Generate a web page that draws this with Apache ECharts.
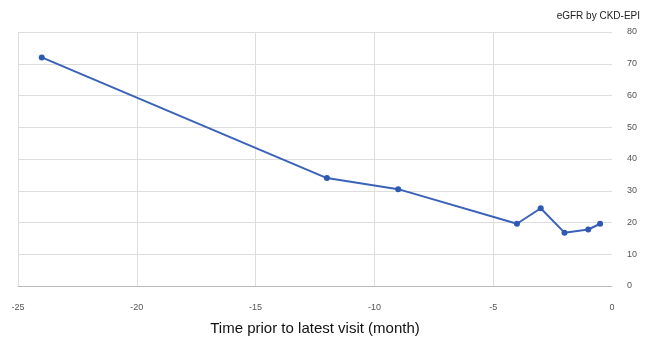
<!DOCTYPE html>
<html>
<head>
<meta charset="utf-8">
<script src="https://cdn.jsdelivr.net/npm/echarts@6/dist/echarts.min.js"></script>
<style>html,body{margin:0;padding:0;background:#fff}#c{width:647px;height:338px}</style>
</head>
<body>
<div id="c"></div>
<script>
const months = [-24, -12, -9, -4, -3, -2, -1, -0.5];
const egfr = [72, 34, 30.5, 19.6, 24.5, 16.8, 17.8, 19.6];
const xTicks = [-25, -20, -15, -10, -5, 0];
const yTicks = [0, 10, 20, 30, 40, 50, 60, 70, 80];

const chart = echarts.init(document.getElementById('c'));
chart.setOption({
  animation: false,
  grid: {left: 18, right: 35, top: 32, bottom: 52, outerBoundsMode: 'none', containLabel: false},
  xAxis: {
    type: 'value',
    min: xTicks[0], max: xTicks[xTicks.length - 1], interval: 5,
    name: 'Time prior to latest visit (month)',
    nameLocation: 'middle', nameGap: 35,
    nameTextStyle: {fontFamily: 'Liberation Sans', fontSize: 15, color: '#111'},
    axisLine: {show: true, lineStyle: {color: '#bbb', width: 1}},
    axisTick: {show: false},
    axisLabel: {fontFamily: 'Liberation Sans', fontSize: 9, color: '#555', margin: 17},
    splitLine: {show: true, showMaxLine: false, lineStyle: {color: '#ddd', width: 1}}
  },
  yAxis: {
    type: 'value', position: 'right',
    min: yTicks[0], max: yTicks[yTicks.length - 1], interval: 10,
    name: 'eGFR by CKD-EPI',
    nameLocation: 'end', nameGap: 11,
    nameTextStyle: {fontFamily: 'Liberation Sans', fontSize: 10, color: '#222', align: 'right', padding: [0, -28, 0, 0]},
    axisLine: {show: false},
    axisTick: {show: false},
    axisLabel: {fontFamily: 'Liberation Sans', fontSize: 9, color: '#555', margin: 15},
    splitLine: {show: true, lineStyle: {color: '#ddd', width: 1}}
  },
  series: [{
    type: 'line',
    data: months.map((m, i) => [m, egfr[i]]),
    symbol: 'circle', symbolSize: 6,
    lineStyle: {color: '#3a62b8', width: 2},
    itemStyle: {color: '#2f58b0'}
  }]
});
</script>
</body>
</html>
